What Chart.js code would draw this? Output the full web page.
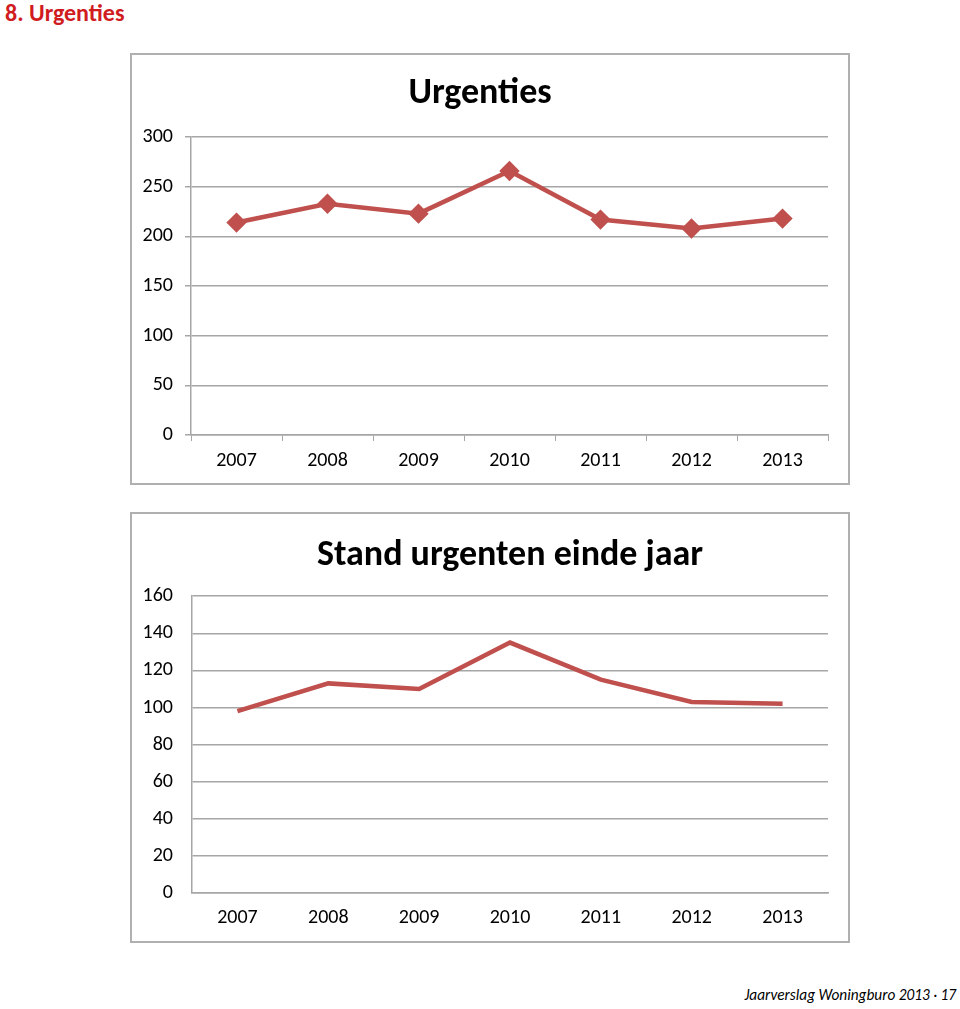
<!DOCTYPE html>
<html>
<head>
<meta charset="utf-8">
<script src="https://cdn.jsdelivr.net/npm/chart.js@4.4.0/dist/chart.umd.min.js"></script>
<style>
    body { margin: 0; background: #fff; width: 960px; height: 1009px; position: relative; font-family: Carlito, Calibri, Lato, sans-serif; }
    h1 { position: absolute; left: 5px; top: -2px; margin: 0; font-size: 24px; font-weight: bold; color: #d01c1f; }
    .box { position: absolute; left: 130px; width: 720px; border: 2px solid #b0b0b0; box-sizing: border-box; background: #fff; }
    .box canvas { display: block; }
    .footer { position: absolute; right: 4px; top: 985px; font-size: 15.3px; font-style: italic; color: #000; }
</style>
</head>
<body>
<h1>8. Urgenties</h1>
<div class="box" style="top:53px;height:432px"><canvas id="urgChart" width="716" height="428"></canvas></div>
<div class="box" style="top:512px;height:431px"><canvas id="standChart" width="716" height="427"></canvas></div>
<div class="footer">Jaarverslag Woningburo 2013 · 17</div>

<script>
// Dados
const years = ['2007', '2008', '2009', '2010', '2011', '2012', '2013'];
const urgenties = [214, 233, 223, 266, 217, 208, 218];
const standEindeJaar = [98, 113, 110, 135, 115, 103, 102];

const fontFamily = 'Carlito, Calibri, Lato, sans-serif';
const lineColor = '#c0504d';
const gridColor = '#a6a6a6';

Chart.defaults.font.family = fontFamily;
Chart.defaults.color = '#000';

function makeChart(id, opts) {
    const ctx = document.getElementById(id).getContext('2d');
    return new Chart(ctx, {
        type: 'line',
        data: {
            labels: years,
            datasets: [{
                data: opts.values,
                borderColor: lineColor,
                backgroundColor: lineColor,
                borderWidth: 4.5,
                tension: 0,
                pointStyle: 'rectRot',
                pointRadius: opts.markers ? 7 : 0,
                pointBackgroundColor: lineColor,
                pointBorderColor: lineColor
            }]
        },
        options: {
            responsive: false,
            devicePixelRatio: 1,
            animation: false,
            layout: { padding: { left: 0, right: 20, top: 0, bottom: 0 } },
            plugins: {
                legend: { display: false },
                tooltip: { enabled: false },
                title: {
                    display: true,
                    text: opts.title,
                    fullSize: opts.fullTitle,
                    color: '#000',
                    font: { family: fontFamily, size: opts.titleSize, weight: 'bold', lineHeight: 1.2 },
                    padding: { top: opts.titleTop, bottom: opts.titleBottom }
                }
            },
            scales: {
                x: {
                    offset: true,
                    grid: {
                        offset: true,
                        drawOnChartArea: false,
                        drawTicks: opts.ticks,
                        tickLength: 6,
                        color: gridColor
                    },
                    border: { color: gridColor, width: 1.5 },
                    ticks: { font: { size: 20 }, color: '#000', padding: opts.xPad },
                    afterFit: (scale) => { scale.height = 48; }
                },
                y: {
                    min: 0,
                    max: opts.max,
                    grid: {
                        color: gridColor,
                        lineWidth: 1.5,
                        drawTicks: opts.ticks,
                        tickLength: 6
                    },
                    border: { color: gridColor, width: 1.5 },
                    ticks: { stepSize: opts.step, font: { size: 20 }, color: '#000', padding: opts.yPad },
                    afterFit: (scale) => { scale.width = opts.yWidth; }
                }
            }
        }
    });
}

makeChart('urgChart', {
    values: urgenties, title: 'Urgenties', titleSize: 36, fullTitle: true,
    titleTop: 17, titleBottom: 22, max: 300, step: 50, markers: true,
    ticks: true, xPad: 8, yPad: 12, yWidth: 59
});

makeChart('standChart', {
    values: standEindeJaar, title: 'Stand urgenten einde jaar', titleSize: 36, fullTitle: false,
    titleTop: 20, titleBottom: 19, max: 160, step: 20, markers: false,
    ticks: false, xPad: 13, yPad: 19, yWidth: 60
});
</script>
</body>
</html>
